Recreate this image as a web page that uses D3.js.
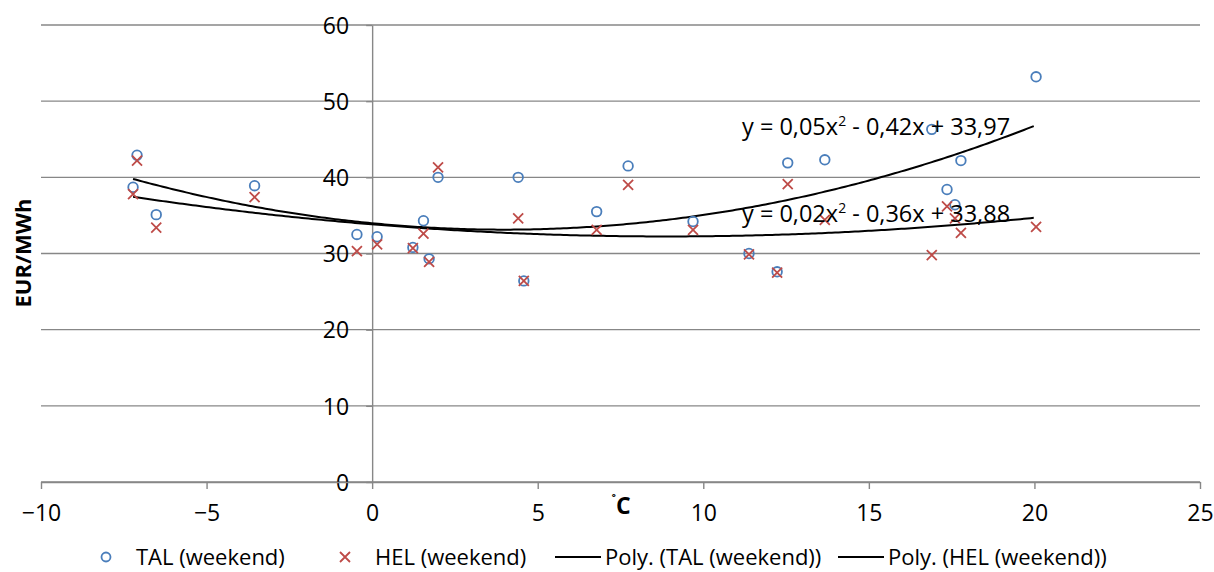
<!DOCTYPE html>
<html>
<head>
<meta charset="utf-8">
<script src="https://cdn.jsdelivr.net/npm/d3@7"></script>
<style>
  body { margin: 0; background: #fff; }
  svg { font-family: "Open Sans", sans-serif; }
</style>
</head>
<body>
<svg id="chart" width="1214" height="572"></svg>
<script>
'use strict'
// outdoor temperature (deg C) for each weekend day, shared by both series
const temps = [-7.22, -7.10, -6.52, -3.55, -0.46, 0.15, 1.23, 1.55, 1.72, 1.99, 4.41, 4.58,
    6.78, 7.73, 9.69, 11.38, 12.23, 12.55, 13.67, 16.90, 17.36, 17.60, 17.78, 20.05];
// price EUR/MWh
const talPrices = [38.7, 42.9, 35.1, 38.9, 32.5, 32.2, 30.8, 34.3, 29.3, 40.0, 40.0, 26.4,
    35.5, 41.5, 34.2, 30.0, 27.6, 41.9, 42.3, 46.3, 38.4, 36.4, 42.2, 53.2];
const helPrices = [37.8, 42.2, 33.4, 37.4, 30.3, 31.2, 30.7, 32.6, 28.9, 41.3, 34.6, 26.4,
    33.1, 39.0, 33.1, 29.9, 27.5, 39.1, 34.4, 29.8, 36.2, 34.6, 32.7, 33.5];
// trendline equations as printed on the chart
const talEquation = ["y = 0,05x", "2", " - 0,42x + 33,97"];
const helEquation = ["y = 0,02x", "2", " - 0,36x + 33,88"];
const xTicks = [-10, -5, 0, 5, 10, 15, 20, 25];
const yTicks = [0, 10, 20, 30, 40, 50, 60];
const legendLabels = ["TAL (weekend)", "HEL (weekend)", "Poly. (TAL (weekend))", "Poly. (HEL (weekend))"];

const blue = "#4a7ebb", red = "#be4b48", grid = "#878787";

let svg = d3.select("#chart");
let x = d3.scaleLinear().domain([-10, 25]).range([41, 1200]);
let y = d3.scaleLinear().domain([0, 60]).range([482, 25]);

// least squares fit of a 2nd order polynomial (like the excel trendline)
function polyFit(xs, ys) {
    let s = [0, 0, 0, 0, 0], t = [0, 0, 0];
    xs.forEach((xv, i) => {
        for (let k = 0; k < 5; k++) s[k] += Math.pow(xv, k);
        for (let k = 0; k < 3; k++) t[k] += ys[i] * Math.pow(xv, k);
    });
    let m = [[s[0], s[1], s[2], t[0]], [s[1], s[2], s[3], t[1]], [s[2], s[3], s[4], t[2]]];
    for (let i = 0; i < 3; i++) {
        for (let j = i + 1; j < 3; j++) {
            let f = m[j][i] / m[i][i];
            for (let k = i; k < 4; k++) m[j][k] -= f * m[i][k];
        }
    }
    let c = [0, 0, 0];
    for (let i = 2; i >= 0; i--) {
        let v = m[i][3];
        for (let k = i + 1; k < 3; k++) v -= m[i][k] * c[k];
        c[i] = v / m[i][i];
    }
    return c;
}

// horizontal gridlines
svg.append("g").selectAll("line")
    .data(yTicks)
    .enter().append("line")
    .attr("x1", x(-10)).attr("x2", x(25))
    .attr("y1", d => y(d)).attr("y2", d => y(d))
    .attr("stroke", grid).attr("stroke-width", 1.4);

// y axis sits at x = 0
let yAxis = svg.append("g")
    .attr("transform", `translate(${x(0)},0)`)
    .call(d3.axisLeft(y).tickValues(yTicks).tickSizeInner(6).tickSizeOuter(0).tickPadding(17));
// x axis
let xAxis = svg.append("g")
    .attr("transform", `translate(0,${y(0)})`)
    .call(d3.axisBottom(x).tickValues(xTicks).tickSizeInner(7).tickSizeOuter(0).tickPadding(16));

[xAxis, yAxis].forEach(a => {
    a.selectAll("path, line").attr("stroke", grid).attr("stroke-width", 1.4);
    a.selectAll("text").attr("font-family", "Open Sans").attr("font-size", 23).attr("fill", "#000");
});
yAxis.selectAll("text").attr("dy", "0.36em");

// axis titles
svg.append("text")
    .attr("transform", "translate(23,253) rotate(-90)")
    .attr("text-anchor", "middle").attr("dy", "0.36em")
    .attr("font-size", 22).attr("font-weight", "bold")
    .text("EUR/MWh");
let xt = svg.append("text")
    .attr("x", 621).attr("y", 514)
    .attr("text-anchor", "middle")
    .attr("font-weight", "bold").attr("font-size", 23);
xt.append("tspan").attr("font-size", 14).attr("dy", -8).text("˚");
xt.append("tspan").attr("dy", 8).text("C");

// trendlines
function drawTrend(prices) {
    let c = polyFit(temps, prices);
    let xs = d3.range(d3.min(temps), d3.max(temps) + 0.001, 0.1);
    svg.append("path")
        .datum(xs)
        .attr("fill", "none").attr("stroke", "#000").attr("stroke-width", 2)
        .attr("d", d3.line().x(d => x(d)).y(d => y(c[0] + c[1] * d + c[2] * d * d)));
}
drawTrend(talPrices);
drawTrend(helPrices);

// TAL circles
svg.append("g").selectAll("circle")
    .data(temps)
    .enter().append("circle")
    .attr("cx", d => x(d))
    .attr("cy", (d, i) => y(talPrices[i]))
    .attr("r", 4.8)
    .attr("fill", "none").attr("stroke", blue).attr("stroke-width", 1.8);

// HEL crosses
const crossPath = "M-5,-5L5,5M-5,5L5,-5";
svg.append("g").selectAll("path")
    .data(temps)
    .enter().append("path")
    .attr("transform", (d, i) => `translate(${x(d)},${y(helPrices[i])})`)
    .attr("d", crossPath)
    .attr("stroke", red).attr("stroke-width", 1.8);

// equation labels
function drawEquation(parts, yPos) {
    let t = svg.append("text").attr("x", 742).attr("y", yPos).attr("font-size", 23.5);
    t.append("tspan").text(parts[0]);
    t.append("tspan").attr("font-size", 14).attr("dy", -9).text(parts[1]);
    t.append("tspan").attr("dy", 9).text(parts[2]);
}
drawEquation(talEquation, 135);
drawEquation(helEquation, 222);

// legend
const legendY = 557;
const legendX = [[106, 136], [345, 375], [555, 605], [838, 888]];
let legend = svg.append("g").attr("font-size", 22);
legendLabels.forEach((label, i) => {
    let [mx, tx] = legendX[i];
    if (i === 0) {
        legend.append("circle").attr("cx", mx).attr("cy", legendY).attr("r", 4.5)
            .attr("fill", "none").attr("stroke", blue).attr("stroke-width", 1.8);
    } else if (i === 1) {
        legend.append("path").attr("transform", `translate(${mx},${legendY})`)
            .attr("d", crossPath).attr("stroke", red).attr("stroke-width", 1.8);
    } else {
        legend.append("line").attr("x1", mx).attr("x2", mx + 46)
            .attr("y1", legendY).attr("y2", legendY)
            .attr("stroke", "#000").attr("stroke-width", 2);
    }
    legend.append("text").attr("x", tx).attr("y", legendY).attr("dy", "0.36em").text(label);
});
</script>
</body>
</html>
